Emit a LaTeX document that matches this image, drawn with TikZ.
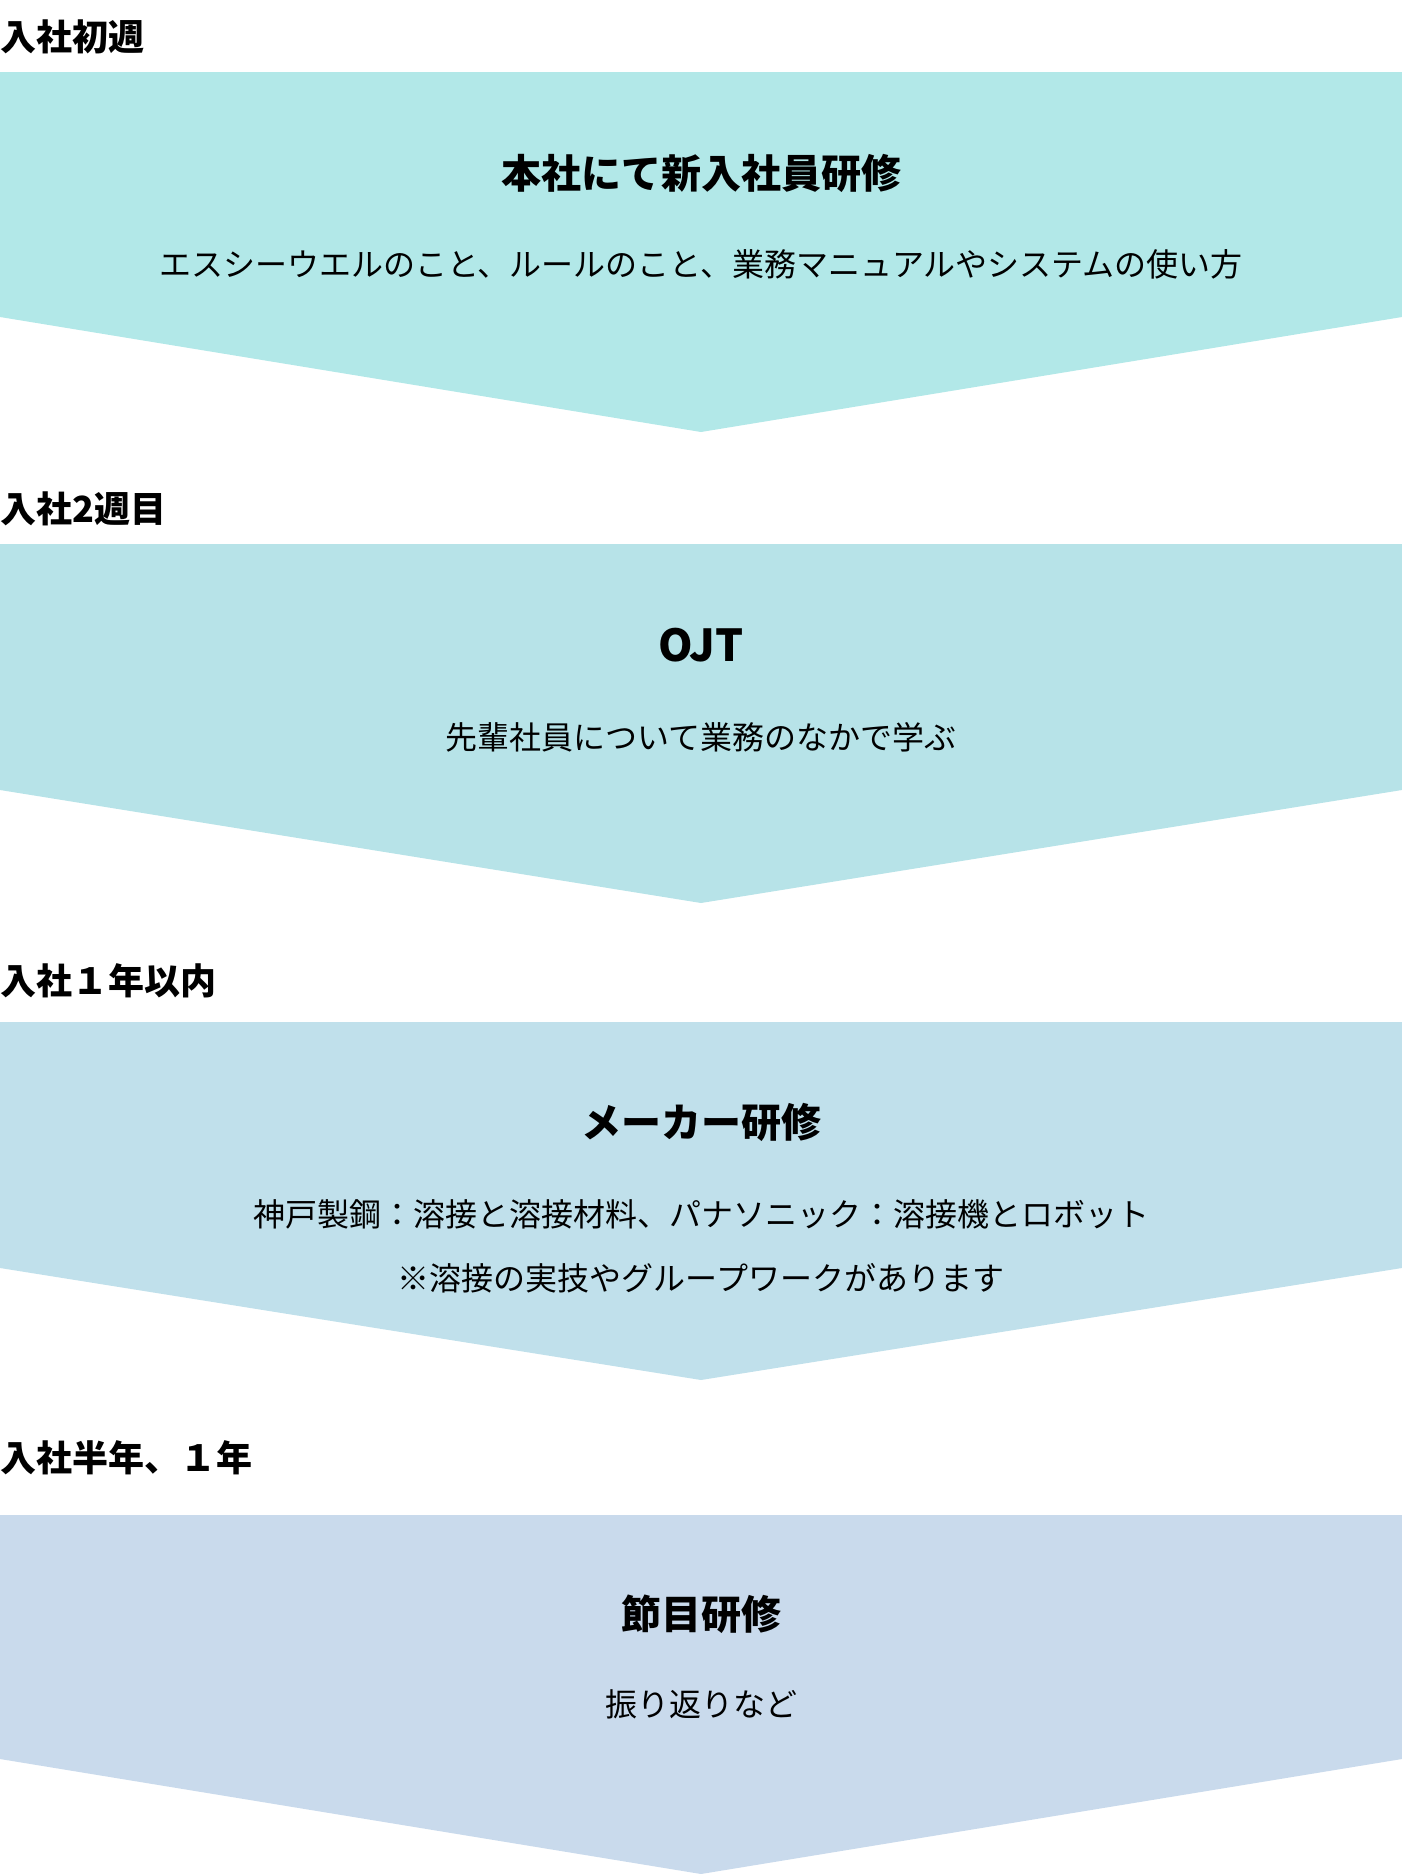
\documentclass[tikz,border=0pt]{standalone}
\usepackage{fontspec}
\setmainfont{Noto Sans CJK JP}
\definecolor{cA}{RGB}{178,232,232}
\definecolor{cB}{RGB}{183,227,232}
\definecolor{cC}{RGB}{192,224,235}
\definecolor{cD}{RGB}{201,218,236}
\begin{document}
\begin{tikzpicture}[x=0.5pt,y=-0.5pt,
  lab/.style={anchor=base west, inner sep=0pt, font=\fontsize{18pt}{20pt}\selectfont\bfseries},
  ttl/.style={anchor=base, inner sep=0pt, font=\fontsize{20pt}{24pt}\selectfont\bfseries},
  sub/.style={anchor=base, inner sep=0pt, font=\fontsize{16pt}{18pt}\selectfont}]
\useasboundingbox (0,0) rectangle (1402,1874);
\fill[cA] (0,72) -- (1402,72) -- (1402,317) -- (701,432) -- (0,317) -- cycle;
\fill[cB] (0,544) -- (1402,544) -- (1402,790) -- (701,903) -- (0,790) -- cycle;
\fill[cC] (0,1022) -- (1402,1022) -- (1402,1268) -- (701,1380) -- (0,1268) -- cycle;
\fill[cD] (0,1515) -- (1402,1515) -- (1402,1759) -- (701,1874) -- (0,1759) -- cycle;

\node[lab] (l1) at (0,50.7) {入社初週};
\node[lab] (l2) at (0,522.7) {入社2週目};
\node[lab] (l3) at (0,994.7) {入社１年以内};
\node[lab] (l4) at (0,1471.7) {入社半年、１年};

\node[ttl] (t1) at (701,188) {本社にて新入社員研修};
\node[sub] (s1) at (701,276) {エスシーウエルのこと、ルールのこと、業務マニュアルやシステムの使い方};

\node[ttl, font=\fontsize{22pt}{24pt}\selectfont\bfseries] (t2) at (701,661) {OJT};
\node[sub] (s2) at (701,749) {先輩社員について業務のなかで学ぶ};

\node[ttl] (t3) at (701,1137) {メーカー研修};
\node[sub] (s3a) at (701,1226) {神戸製鋼：溶接と溶接材料、パナソニック：溶接機とロボット};
\node[sub] (s3b) at (701,1290) {※溶接の実技やグループワークがあります};

\node[ttl] (t4) at (701,1629) {節目研修};
\node[sub] (s4) at (701,1716) {振り返りなど};
\end{tikzpicture}
\end{document}
